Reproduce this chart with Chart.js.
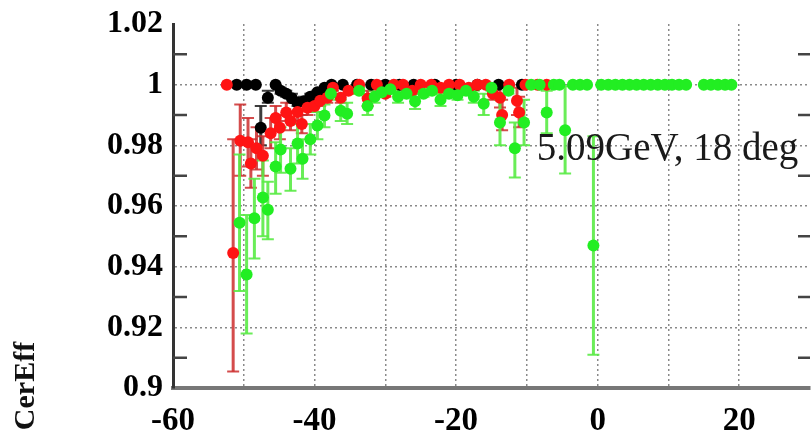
<!DOCTYPE html>
<html lang="en">
<head>
    <meta charset="UTF-8">
    <title>CerEff</title>
    <script src="https://cdn.jsdelivr.net/npm/chart.js"></script>
    <style>
        body {
            margin: 0;
            background-color: #fff;
        }
        canvas {
            display: block;
        }
    </style>
</head>
<body>
    <canvas id="effChart" width="811" height="432"></canvas>

    <script>
        // axis ticks
        var xTicksShown = [-60, -40, -20, 0, 20];
        var yTicks = [0.9, 0.92, 0.94, 0.96, 0.98, 1.0, 1.02];
        var yMinorTicks = [0.91, 0.93, 0.95, 0.97, 0.99, 1.01];
        var labelText = '5.09GeV, 18 deg';
        var labelPos = [-8.6, 0.9753];

        // black series
        var blackX  = [-51.0, -49.6, -48.3, -47.6, -46.6, -45.5, -44.8, -44.0, -43.2, -42.4, -41.5, -40.6, -39.6, -38.6, -37.6, -36.0, -34.0, -32.0, -30.0, -28.0, -26.0, -23.0, -20.0, -17.0, -14.0, -10.7];
        var blackY  = [1.0, 1.0, 1.0, 0.9858, 0.9957, 1.0, 0.998, 0.997, 0.9955, 0.994, 0.9945, 0.996, 0.9975, 0.999, 1.0, 1.0, 1.0, 1.0, 1.0, 1.0, 1.0, 1.0, 1.0, 1.0, 1.0, 1.0];
        var blackLo = [1.0, 1.0, 1.0, 0.980, 0.994, 1.0, 0.997, 0.996, 0.994, 0.993, 0.993, 0.995, 0.997, 0.999, 1.0, 1.0, 1.0, 1.0, 1.0, 1.0, 1.0, 1.0, 1.0, 1.0, 1.0, 1.0];
        var blackHi = [1.0, 1.0, 1.0, 0.993, 0.998, 1.0, 0.999, 0.998, 0.997, 0.995, 0.996, 0.997, 0.998, 0.999, 1.0, 1.0, 1.0, 1.0, 1.0, 1.0, 1.0, 1.0, 1.0, 1.0, 1.0, 1.0];

        // red series
        var redX  = [-52.4, -51.5, -50.5, -49.4, -49.0, -48.2, -47.3, -46.2, -45.5, -44.9, -44.0, -43.4, -42.4, -41.8, -41.0, -40.0, -39.2, -38.2, -37.4, -36.3, -35.2, -33.7, -32.5, -31.2, -30.0, -28.8, -27.5, -26.2, -25.0, -23.5, -22.2, -21.0, -19.5, -18.2, -17.0, -15.8, -14.8, -13.8, -13.5, -12.5, -11.4, -11.1, -10.2, -8.5, -7.2];
        var redY  = [1.0, 0.9445, 0.9815, 0.981, 0.974, 0.979, 0.9766, 0.984, 0.989, 0.9858, 0.9908, 0.988, 0.991, 0.987, 0.9924, 0.993, 0.9947, 0.9957, 0.999, 0.9957, 0.998, 1.0, 0.9954, 1.0, 0.997, 1.0, 1.0, 0.998, 1.0, 1.0, 0.999, 1.0, 1.0, 0.999, 1.0, 1.0, 0.997, 0.9957, 0.990, 1.0, 0.9947, 0.9908, 1.0, 1.0, 1.0];
        var redLo = [1.0, 0.9054, 0.970, 0.973, 0.966, 0.972, 0.970, 0.979, 0.985, 0.982, 0.988, 0.985, 0.988, 0.984, 0.990, 0.991, 0.993, 0.994, 0.998, 0.994, 0.997, 1.0, 0.993, 1.0, 0.996, 1.0, 1.0, 0.997, 1.0, 1.0, 0.998, 1.0, 1.0, 0.998, 1.0, 1.0, 0.995, 0.9925, 0.985, 1.0, 0.990, 0.986, 1.0, 1.0, 1.0];
        var redHi = [1.0, 0.982, 0.9935, 0.989, 0.982, 0.986, 0.983, 0.989, 0.993, 0.990, 0.994, 0.991, 0.994, 0.990, 0.995, 0.995, 0.9965, 0.997, 1.0, 0.997, 0.999, 1.0, 0.998, 1.0, 0.998, 1.0, 1.0, 0.999, 1.0, 1.0, 1.0, 1.0, 1.0, 1.0, 1.0, 1.0, 0.999, 0.999, 0.995, 1.0, 0.999, 0.996, 1.0, 1.0, 1.0];

        // green series
        var greenX  = [-50.6, -49.6, -48.5, -47.3, -46.6, -45.5, -44.8, -43.4, -42.4, -41.7, -40.6, -39.6, -38.6, -37.7, -36.3, -35.4, -33.7, -32.5, -31.5, -30.5, -29.3, -28.2, -27.0, -25.8, -24.6, -23.4, -22.2, -21.0, -19.8, -18.6, -17.5, -16.1, -15.0, -13.8, -12.6, -11.7, -10.4, -9.4, -8.2, -7.2, -6.2, -5.4, -4.6, -3.5, -2.5, -1.5, -0.6, 0.5, 1.5, 2.5, 3.5, 4.5, 5.5, 6.5, 7.5, 8.5, 9.5, 10.5, 11.5, 12.5, 15.0, 16.0, 17.0, 18.0, 18.9];
        var greenY  = [0.9545, 0.9374, 0.956, 0.9628, 0.9588, 0.973, 0.9786, 0.9723, 0.9806, 0.9756, 0.982, 0.9865, 0.9898, 0.997, 0.9914, 0.9904, 0.998, 0.993, 0.996, 0.9975, 0.9985, 0.996, 0.997, 0.9945, 0.997, 0.998, 0.995, 0.997, 0.9965, 0.998, 0.996, 0.9937, 0.999, 0.9875, 0.998, 0.979, 0.9875, 1.0, 1.0, 0.9908, 1.0, 1.0, 0.985, 1.0, 1.0, 1.0, 0.947, 1.0, 1.0, 1.0, 1.0, 1.0, 1.0, 1.0, 1.0, 1.0, 1.0, 1.0, 1.0, 1.0, 1.0, 1.0, 1.0, 1.0, 1.0];
        var greenLo = [0.932, 0.918, 0.9427, 0.950, 0.949, 0.964, 0.971, 0.965, 0.974, 0.969, 0.977, 0.982, 0.986, 0.995, 0.988, 0.987, 0.997, 0.990, 0.994, 0.996, 0.998, 0.994, 0.996, 0.992, 0.996, 0.997, 0.993, 0.996, 0.995, 0.997, 0.994, 0.990, 0.998, 0.980, 0.997, 0.9694, 0.980, 1.0, 1.0, 0.984, 1.0, 1.0, 0.9707, 1.0, 1.0, 1.0, 0.911, 1.0, 1.0, 1.0, 1.0, 1.0, 1.0, 1.0, 1.0, 1.0, 1.0, 1.0, 1.0, 1.0, 1.0, 1.0, 1.0, 1.0, 1.0];
        var greenHi = [0.977, 0.957, 0.969, 0.975, 0.968, 0.981, 0.986, 0.979, 0.987, 0.982, 0.987, 0.991, 0.9935, 0.999, 0.995, 0.994, 0.999, 0.996, 0.998, 0.999, 0.999, 0.998, 0.998, 0.997, 0.998, 0.999, 0.997, 0.998, 0.998, 0.999, 0.998, 0.997, 1.0, 0.995, 0.999, 0.9875, 0.995, 1.0, 1.0, 0.998, 1.0, 1.0, 0.9995, 1.0, 1.0, 1.0, 0.983, 1.0, 1.0, 1.0, 1.0, 1.0, 1.0, 1.0, 1.0, 1.0, 1.0, 1.0, 1.0, 1.0, 1.0, 1.0, 1.0, 1.0, 1.0];

        function toPoints(xs, ys) {
            var pts = [];
            for (var i = 0; i < xs.length; i++) {
                pts.push({ x: xs[i], y: ys[i] });
            }
            return pts;
        }

        var errorSets = [
            { lo: blackLo, hi: blackHi, xs: blackX, color: 'rgba(40, 40, 40, 0.9)' },
            { lo: redLo, hi: redHi, xs: redX, color: 'rgba(205, 45, 45, 0.85)' },
            { lo: greenLo, hi: greenHi, xs: greenX, color: 'rgba(90, 235, 70, 0.9)' }
        ];

        // error bars, minor ticks and the text label, all placed through the chart scales
        var extrasPlugin = {
            id: 'extras',
            beforeDatasetsDraw: function(chart) {
                var ctx = chart.ctx;
                var xs = chart.scales.x;
                var ys = chart.scales.y;
                ctx.save();
                errorSets.forEach(function(set) {
                    ctx.strokeStyle = set.color;
                    for (var i = 0; i < set.xs.length; i++) {
                        if (set.hi[i] - set.lo[i] < 0.0005) continue;
                        var px = xs.getPixelForValue(set.xs[i]);
                        var top = ys.getPixelForValue(set.hi[i]);
                        var bot = ys.getPixelForValue(set.lo[i]);
                        ctx.lineWidth = 3;
                        ctx.beginPath();
                        ctx.moveTo(px, top);
                        ctx.lineTo(px, bot);
                        ctx.stroke();
                        ctx.lineWidth = 2;
                        ctx.beginPath();
                        ctx.moveTo(px - 6, top);
                        ctx.lineTo(px + 6, top);
                        ctx.moveTo(px - 6, bot);
                        ctx.lineTo(px + 6, bot);
                        ctx.stroke();
                    }
                });
                ctx.restore();
            },
            afterDraw: function(chart) {
                var ctx = chart.ctx;
                var xs = chart.scales.x;
                var ys = chart.scales.y;
                var area = chart.chartArea;
                ctx.save();
                // minor ticks, left and right
                ctx.strokeStyle = '#444';
                ctx.lineWidth = 2.5;
                yMinorTicks.forEach(function(v) {
                    var py = ys.getPixelForValue(v);
                    ctx.beginPath();
                    ctx.moveTo(area.left, py);
                    ctx.lineTo(area.left + 14, py);
                    ctx.moveTo(area.right - 12, py);
                    ctx.lineTo(area.right, py);
                    ctx.stroke();
                });
                // label
                ctx.fillStyle = '#1a1a1a';
                ctx.font = '39px "Liberation Serif", serif';
                ctx.textAlign = 'left';
                ctx.textBaseline = 'alphabetic';
                ctx.fillText(labelText, xs.getPixelForValue(labelPos[0]), ys.getPixelForValue(labelPos[1]));
                // y title
                ctx.translate(34, 386);
                ctx.rotate(-Math.PI / 2);
                ctx.font = 'bold 30px "Liberation Serif", serif';
                ctx.textAlign = 'center';
                ctx.fillStyle = '#111';
                ctx.fillText('CerEff', 0, 0);
                ctx.restore();
            }
        };

        var ctx = document.getElementById('effChart').getContext('2d');
        var effChart = new Chart(ctx, {
            type: 'scatter',
            data: {
                datasets: [
                    {
                        label: 'green',
                        data: toPoints(greenX, greenY),
                        backgroundColor: '#22ee22',
                        borderWidth: 0,
                        pointRadius: 6,
                        order: 0
                    },
                    {
                        label: 'red',
                        data: toPoints(redX, redY),
                        backgroundColor: '#ff1414',
                        borderWidth: 0,
                        pointRadius: 6,
                        order: 1
                    },
                    {
                        label: 'black',
                        data: toPoints(blackX, blackY),
                        backgroundColor: '#000',
                        borderWidth: 0,
                        pointRadius: 6,
                        order: 2
                    }
                ]
            },
            options: {
                responsive: false,
                animation: false,
                devicePixelRatio: 1,
                layout: {
                    autoPadding: false,
                    padding: { top: 24, right: 1, left: 0, bottom: 0 }
                },
                plugins: {
                    legend: { display: false },
                    tooltip: { enabled: false }
                },
                scales: {
                    x: {
                        type: 'linear',
                        min: -60,
                        max: 30,
                        afterFit: function(scale) {
                            scale.height = 44;
                            scale.paddingRight = 0;
                            scale.paddingLeft = 0;
                        },
                        ticks: {
                            stepSize: 10,
                            padding: 14,
                            color: '#000',
                            maxRotation: 0,
                            autoSkip: false,
                            font: { family: '"Liberation Serif", serif', size: 33, weight: 'bold' },
                            callback: function(v) {
                                return xTicksShown.indexOf(v) >= 0 ? String(v) : '';
                            }
                        },
                        grid: {
                            color: function(c) {
                                var v = c.tick ? c.tick.value : 0;
                                return (v === -60 || v === 30) ? 'rgba(0,0,0,0)' : '#8a8a8a';
                            },
                            lineWidth: 1.5,
                            drawTicks: false
                        },
                        border: { color: '#777', width: 4, dash: [2, 3] }
                    },
                    y: {
                        type: 'linear',
                        min: 0.9,
                        max: 1.02,
                        afterFit: function(scale) {
                            scale.width = 173;
                            scale.paddingTop = 0;
                            scale.paddingBottom = 0;
                        },
                        afterBuildTicks: function(scale) {
                            scale.ticks = yTicks.map(function(v) { return { value: v }; });
                        },
                        ticks: {
                            padding: 10,
                            color: '#000',
                            font: { family: '"Liberation Serif", serif', size: 32, weight: 'bold' },
                            callback: function(v) {
                                return String(Math.round(v * 100) / 100);
                            }
                        },
                        grid: {
                            color: function(c) {
                                var v = c.tick ? c.tick.value : 0;
                                return (v < 0.905 || v > 1.015) ? 'rgba(0,0,0,0)' : '#8a8a8a';
                            },
                            lineWidth: 1.5,
                            drawTicks: false
                        },
                        border: { color: '#333', width: 3, dash: [2, 3] }
                    }
                }
            },
            plugins: [extrasPlugin]
        });
    </script>
</body>
</html>
